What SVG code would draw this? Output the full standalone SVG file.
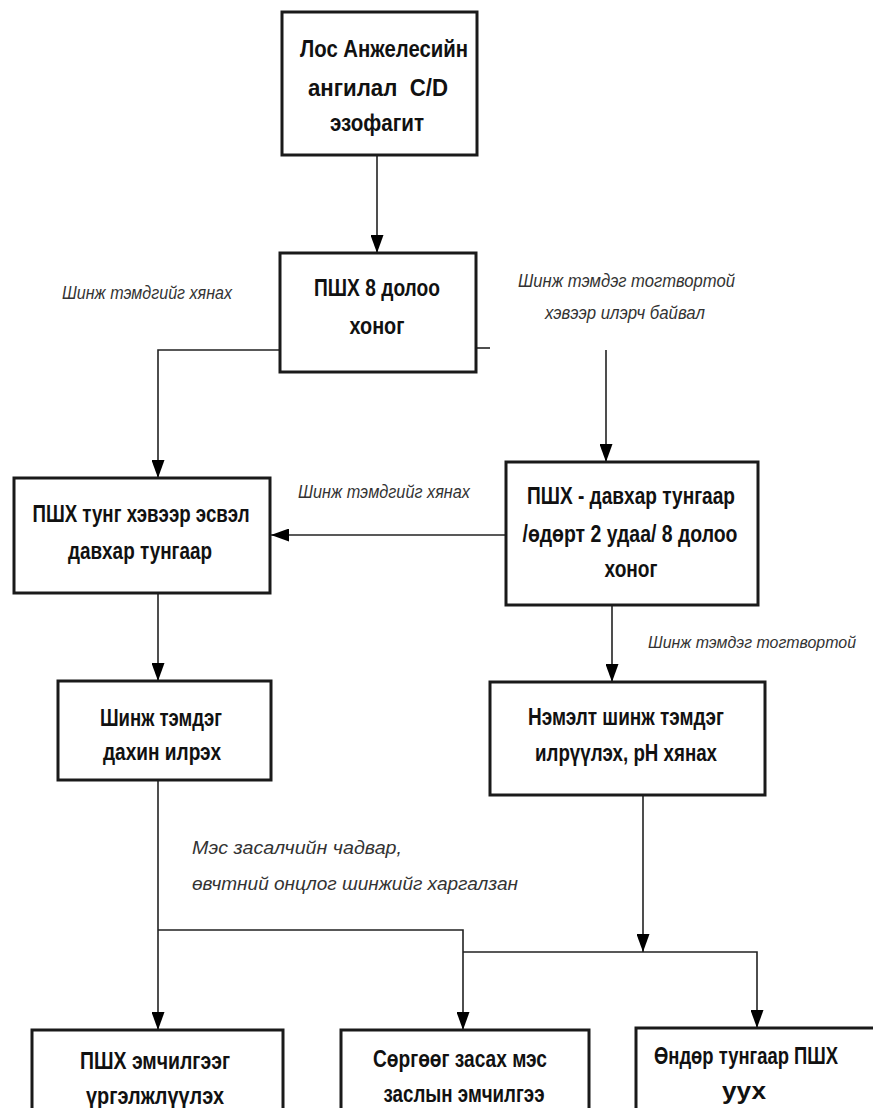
<svg xmlns="http://www.w3.org/2000/svg" width="873" height="1108" viewBox="0 0 873 1108">
<style>
.box{fill:#fff;stroke:#1a1a1a;stroke-width:3}
.t{font-family:"Liberation Sans",Arial,sans-serif;font-weight:bold;font-size:23px;fill:#111;text-anchor:middle}
.l{font-family:"Liberation Sans",Arial,sans-serif;font-style:italic;font-size:18.5px;fill:#333}
.c{fill:none;stroke:#222;stroke-width:1.6}
</style>
<defs>
<marker id="ah" viewBox="0 0 18 13" refX="18" refY="6.5" markerWidth="18" markerHeight="13" markerUnits="userSpaceOnUse" orient="auto">
<path d="M0,0 L18,6.5 L0,13 Z" fill="#000"/>
</marker>
</defs>
<rect width="873" height="1108" fill="#fff"/>
<g id="connectors">
<path class="c" d="M377,155 V253" marker-end="url(#ah)"/>
<path class="c" d="M280,350 H158 V478" marker-end="url(#ah)"/>
<path class="c" d="M476,348 H490"/>
<path class="c" d="M606,350 V462" marker-end="url(#ah)"/>
<path class="c" d="M506,535 H271" marker-end="url(#ah)"/>
<path class="c" d="M612,605 V682" marker-end="url(#ah)"/>
<path class="c" d="M158,593 V681" marker-end="url(#ah)"/>
<path class="c" d="M158,780 V1030" marker-end="url(#ah)"/>
<path class="c" d="M158,930 H463 V1030" marker-end="url(#ah)"/>
<path class="c" d="M463,952 H757 V1028" marker-end="url(#ah)"/>
<path class="c" d="M643,795 V952" marker-end="url(#ah)"/>
</g>
<g id="labels">
<text class="l" x="62" y="299" textLength="170" lengthAdjust="spacingAndGlyphs">Шинж тэмдгийг хянах</text>
<text class="l" x="518" y="287" textLength="217" lengthAdjust="spacingAndGlyphs">Шинж тэмдэг тогтвортой</text>
<text class="l" x="545" y="319" textLength="160" lengthAdjust="spacingAndGlyphs">хэвээр илэрч байвал</text>
<text class="l" x="298" y="498" textLength="172" lengthAdjust="spacingAndGlyphs">Шинж тэмдгийг хянах</text>
<text class="l" x="648" y="648" style="font-size:16px" textLength="208" lengthAdjust="spacingAndGlyphs">Шинж тэмдэг тогтвортой</text>
<text class="l" x="192" y="854" textLength="210" lengthAdjust="spacingAndGlyphs">Мэс засалчийн чадвар,</text>
<text class="l" x="192" y="890" textLength="326" lengthAdjust="spacingAndGlyphs">өвчтний онцлог шинжийг харгалзан</text>
</g>
<g id="n1">
<rect class="box" x="282" y="12" width="195" height="143"/>
<text class="t" x="384" y="57" textLength="168" lengthAdjust="spacingAndGlyphs">Лос Анжелесийн</text>
<text class="t" x="378" y="96" textLength="140" lengthAdjust="spacingAndGlyphs" xml:space="preserve">ангилал  C/D</text>
<text class="t" x="377" y="131" textLength="94" lengthAdjust="spacingAndGlyphs">эзофагит</text>
</g>
<g id="n2">
<rect class="box" x="280" y="253" width="196" height="119"/>
<text class="t" x="377" y="296" textLength="126" lengthAdjust="spacingAndGlyphs">ПШХ 8 долоо</text>
<text class="t" x="377" y="334" textLength="55" lengthAdjust="spacingAndGlyphs">хоног</text>
</g>
<g id="n3">
<rect class="box" x="14" y="478" width="256" height="115"/>
<text class="t" x="141" y="522" textLength="217" lengthAdjust="spacingAndGlyphs">ПШХ тунг хэвээр эсвэл</text>
<text class="t" x="140" y="559" textLength="144" lengthAdjust="spacingAndGlyphs">давхар тунгаар</text>
</g>
<g id="n4">
<rect class="box" x="506" y="462" width="252" height="143"/>
<text class="t" x="631" y="504" textLength="208" lengthAdjust="spacingAndGlyphs">ПШХ - давхар тунгаар</text>
<text class="t" x="630" y="542" textLength="215" lengthAdjust="spacingAndGlyphs">/өдөрт 2 удаа/ 8 долоо</text>
<text class="t" x="631" y="577" textLength="53" lengthAdjust="spacingAndGlyphs">хоног</text>
</g>
<g id="n5">
<rect class="box" x="58" y="681" width="213" height="99"/>
<text class="t" x="161" y="726" textLength="122" lengthAdjust="spacingAndGlyphs">Шинж тэмдэг</text>
<text class="t" x="162" y="760" textLength="118" lengthAdjust="spacingAndGlyphs">дахин илрэх</text>
</g>
<g id="n6">
<rect class="box" x="490" y="682" width="275" height="113"/>
<text class="t" x="626" y="725" textLength="196" lengthAdjust="spacingAndGlyphs">Нэмэлт шинж тэмдэг</text>
<text class="t" x="626" y="761" textLength="182" lengthAdjust="spacingAndGlyphs">илрүүлэх, pH хянах</text>
</g>
<g id="n7">
<rect class="box" x="32" y="1030" width="251" height="90"/>
<text class="t" x="155" y="1069" textLength="150" lengthAdjust="spacingAndGlyphs">ПШХ эмчилгээг</text>
<text class="t" x="155" y="1104" textLength="138" lengthAdjust="spacingAndGlyphs">үргэлжлүүлэх</text>
</g>
<g id="n8">
<rect class="box" x="341" y="1030" width="248" height="90"/>
<text class="t" x="460" y="1067" textLength="174" lengthAdjust="spacingAndGlyphs">Сөргөөг засах мэс</text>
<text class="t" x="464" y="1102" textLength="161" lengthAdjust="spacingAndGlyphs">заслын эмчилгээ</text>
</g>
<g id="n9">
<rect class="box" x="636" y="1028" width="250" height="92"/>
<text class="t" x="746" y="1064" textLength="184" lengthAdjust="spacingAndGlyphs">Өндөр тунгаар ПШХ</text>
<text class="t" x="744" y="1099" textLength="44" lengthAdjust="spacingAndGlyphs">уух</text>
</g>
</svg>
